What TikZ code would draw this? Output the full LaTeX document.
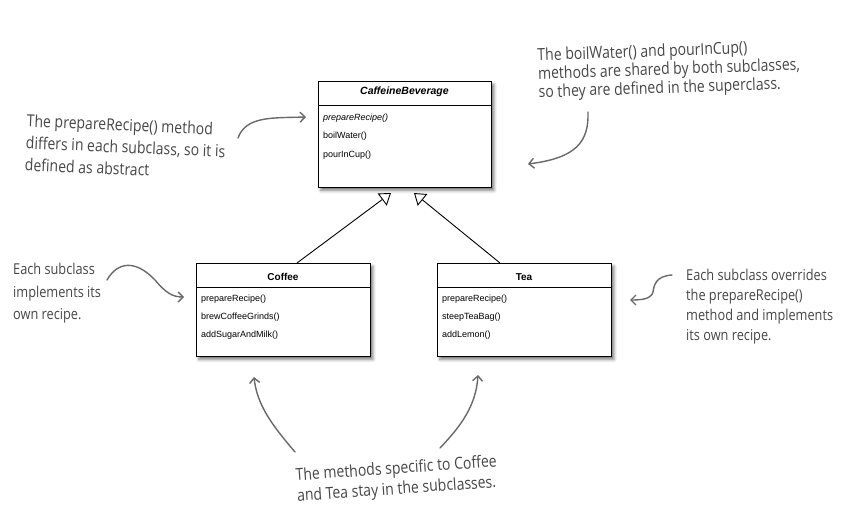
\documentclass[tikz,border=0pt]{standalone}
\usepackage{fontspec}
\setmainfont{Liberation Sans}
\newfontfamily\hand[FakeStretch=0.85]{Open Sans}
\usetikzlibrary{arrows.meta,shadows.blur,calc}
\definecolor{notegray}{RGB}{70,70,70}
\definecolor{arrowgray}{RGB}{105,105,105}
\tikzset{
  umlbox/.style={draw, line width=0.8pt, fill=white, inner sep=0pt, anchor=north west,
    blur shadow={shadow xshift=2.5pt, shadow yshift=-3pt, shadow blur radius=3pt, shadow opacity=55}},
  meth/.style={anchor=west, font=\fontsize{9}{10}\selectfont, inner sep=0pt},
  umltitle/.style={font=\fontsize{10}{12}\selectfont\bfseries, inner sep=0pt},
  note/.style={text=notegray, align=left, inner sep=0pt, anchor=north west},
  handarrow/.style={draw=arrowgray, line width=1.4pt, line cap=round,
    -{Straight Barb[length=5pt,width=10pt]}},
  inherit/.style={draw=black, line width=0.9pt, -{Triangle[open, length=11pt, width=15pt, line width=0.9pt]}}
}
\begin{document}
\begin{tikzpicture}[x=1pt,y=-1pt]
\useasboundingbox (0,0) rectangle (859,526);

% classes
\node[umlbox, minimum width=173, minimum height=106] (cb) at (318,81) {};
\draw[line width=0.8pt] ($(cb.north west)+(0,24)$) -- ($(cb.north east)+(0,24)$);
\node[umltitle, font=\fontsize{10.5}{12}\selectfont\bfseries\itshape] (cbt) at (404.5,92) {CaffeineBeverage};
\node[meth, font=\fontsize{9}{10}\selectfont\itshape] (cb1) at (323,118) {prepareRecipe()};
\node[meth] (cb2) at (323,136) {boilWater()};
\node[meth] (cb3) at (323,155) {pourInCup()};

\node[umlbox, minimum width=174, minimum height=93] (cof) at (196,263) {};
\draw[line width=0.8pt] ($(cof.north west)+(0,24)$) -- ($(cof.north east)+(0,24)$);
\node[umltitle] (coft) at (283,277) {Coffee};
\node[meth] (cof1) at (201,299) {prepareRecipe()};
\node[meth] (cof2) at (201,317) {brewCoffeeGrinds()};
\node[meth] (cof3) at (201,335) {addSugarAndMilk()};

\node[umlbox, minimum width=174, minimum height=93] (tea) at (437,263) {};
\draw[line width=0.8pt] ($(tea.north west)+(0,24)$) -- ($(tea.north east)+(0,24)$);
\node[umltitle] (teat) at (524,277) {Tea};
\node[meth] (tea1) at (442,299) {prepareRecipe()};
\node[meth] (tea2) at (442,317) {steepTeaBag()};
\node[meth] (tea3) at (442,335) {addLemon()};

% inheritance
\coordinate (cofup) at (297,263);
\coordinate (teaup) at (500,263);
\coordinate (cbtipA) at (391,193);
\coordinate (cbtipB) at (414,193);
\draw[inherit] (cofup) -- (cbtipA);
\draw[inherit] (teaup) -- (cbtipB);

% notes
\node[note, rotate=-2.5, font=\hand\fontsize{16.5}{22}\selectfont] (n1) at (27,114)
  {The prepareRecipe() method\\differs in each subclass, so it is\\defined as abstract};
\node[note, rotate=2, font=\hand\fontsize{16.5}{18.5}\selectfont] (n2) at (537,48)
  {The boilWater() and pourInCup()\\methods are shared by both subclasses,\\so they are defined in the superclass.};
\node[note, font=\hand\fontsize{15}{22.5}\selectfont] (n3) at (13,263)
  {Each subclass\\implements its\\own recipe.};
\node[note, font=\hand\fontsize{15}{20}\selectfont] (n4) at (686,269)
  {Each subclass overrides\\the prepareRecipe()\\method and implements\\its own recipe.};
\node[note, rotate=4, font=\hand\fontsize{16.5}{20.5}\selectfont] (n5) at (295,468)
  {The methods specific to Coffee\\and Tea stay in the subclasses.};

% hand arrows
\coordinate (a1s) at (238,138);
\coordinate (a1e) at (306,117);
\draw[handarrow] (a1s) .. controls (246,116) and (272,118) .. (a1e);
\coordinate (a2s) at (588,112);
\coordinate (a2e) at (528,164);
\draw[handarrow] (a2s) .. controls (589,142) and (576,158) .. (a2e);
\coordinate (a3s) at (107,280);
\coordinate (a3e) at (184,297);
\draw[handarrow] (a3s) .. controls (118,261) and (136,260) .. (155,280) .. controls (165,292) and (172,297) .. (a3e);
\coordinate (a4s) at (672,275);
\coordinate (a4e) at (630,300);
\draw[handarrow] (a4s) .. controls (656,276) and (654,285) .. (653,292) .. controls (651,299) and (642,300) .. (a4e);
\coordinate (a5s) at (295,452);
\coordinate (a5e) at (254,377);
\draw[handarrow] (a5s) .. controls (272,425) and (257,405) .. (a5e);
\coordinate (a6s) at (440,448);
\coordinate (a6e) at (478,375);
\draw[handarrow] (a6s) .. controls (462,425) and (476,405) .. (a6e);
\end{tikzpicture}
\end{document}
